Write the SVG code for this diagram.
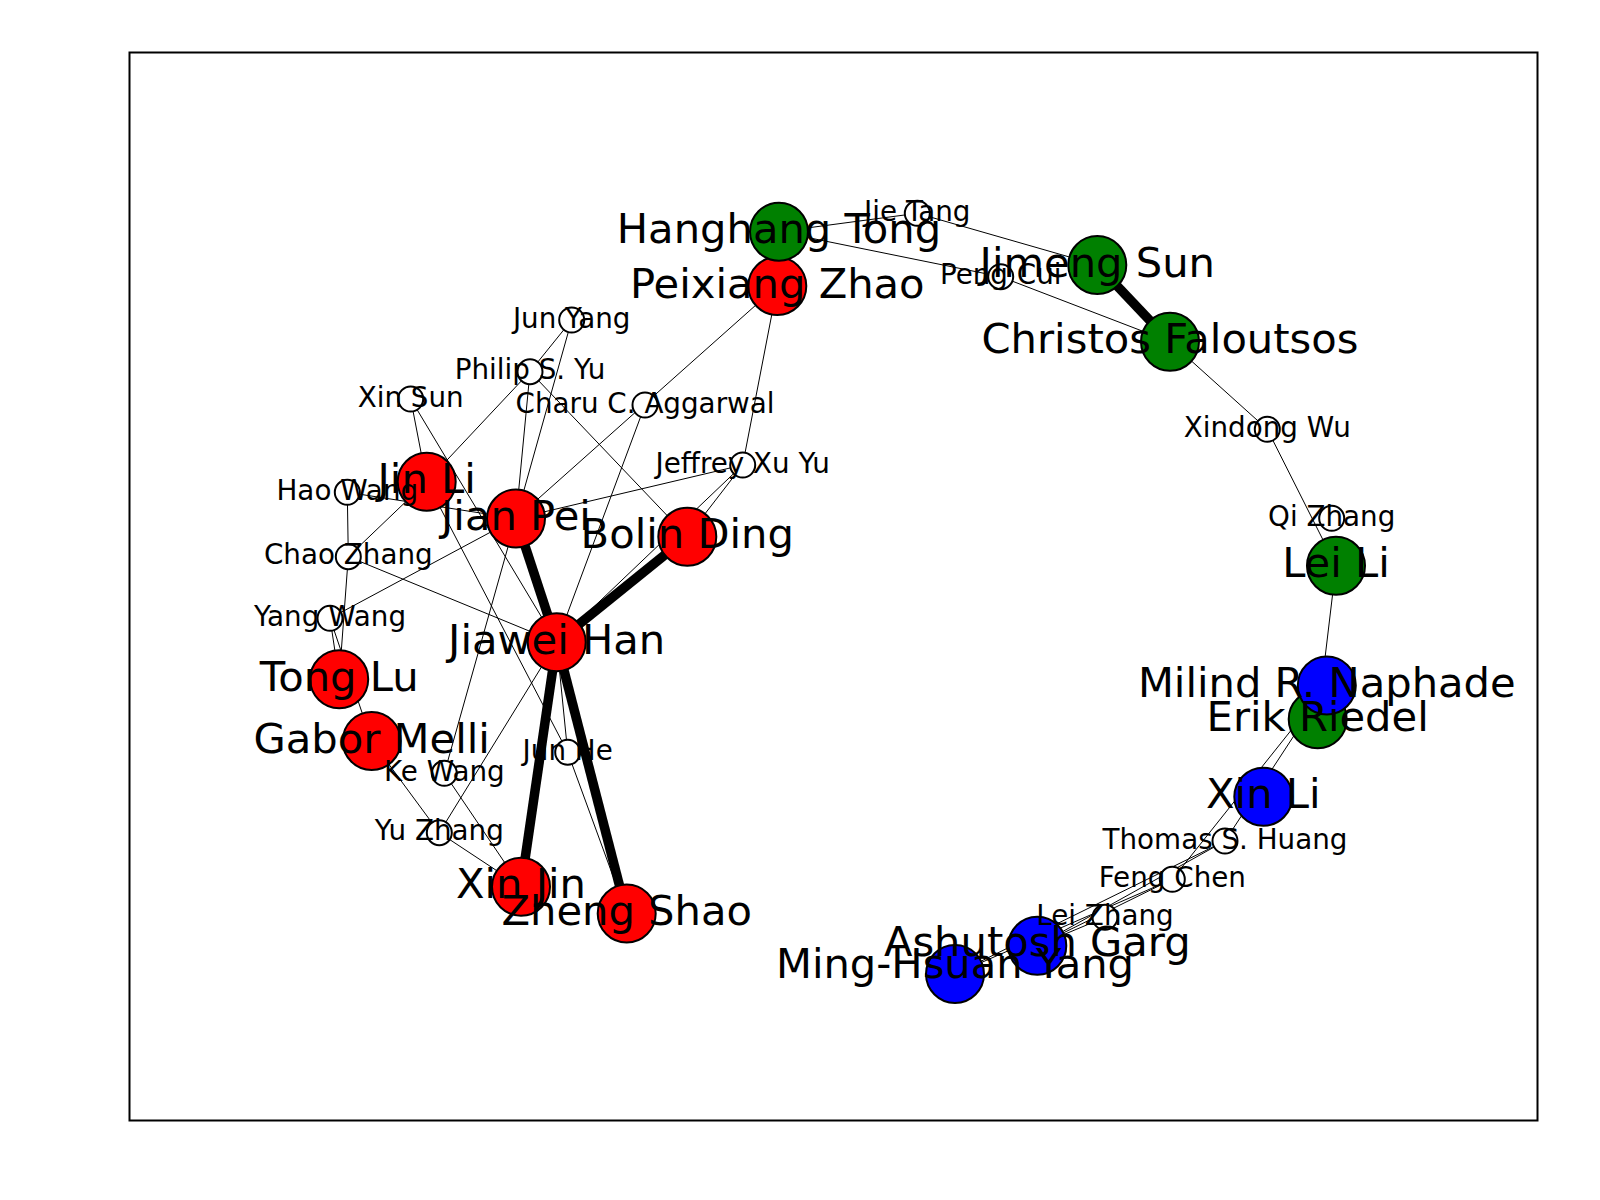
<svg xmlns="http://www.w3.org/2000/svg" width="1600" height="1200" viewBox="0 0 1600 1200">
<style>
.e{stroke:#000;stroke-width:1;fill:none}
.t{stroke:#000;stroke-width:9.5;fill:none}
.n{stroke:#000;stroke-width:2}
.r{fill:#ff0000}.g{fill:#008000}.b{fill:#0000ff}.w{fill:#ffffff}
.L{font-family:"DejaVu Sans","Liberation Sans",sans-serif;font-size:41.67px;text-anchor:middle;fill:#000}
.s{font-family:"DejaVu Sans","Liberation Sans",sans-serif;font-size:27.78px;text-anchor:middle;fill:#000}
</style>
<rect x="0" y="0" width="1600" height="1200" fill="#ffffff"/>
<rect x="129.5" y="52.5" width="1408" height="1068" fill="none" stroke="#000" stroke-width="2"/>
<g id="edges">
<line class="e" x1="571.7" y1="320" x2="530" y2="371.7"/>
<line class="e" x1="571.7" y1="320" x2="516" y2="518.5"/>
<line class="e" x1="530" y1="371.7" x2="426.7" y2="481.7"/>
<line class="e" x1="530" y1="371.7" x2="516" y2="518.5"/>
<line class="e" x1="530" y1="371.7" x2="687.3" y2="536.7"/>
<line class="e" x1="410.7" y1="399" x2="426.7" y2="481.7"/>
<line class="e" x1="410.7" y1="399" x2="556.7" y2="642.3"/>
<line class="e" x1="426.7" y1="481.7" x2="567.7" y2="752.3"/>
<line class="e" x1="426.7" y1="481.7" x2="348.3" y2="556.7"/>
<line class="e" x1="347.3" y1="492.3" x2="516" y2="518.5"/>
<line class="e" x1="347.3" y1="492.3" x2="348.3" y2="556.7"/>
<line class="e" x1="777.3" y1="286" x2="516" y2="518.5"/>
<line class="e" x1="645" y1="405" x2="556.7" y2="642.3"/>
<line class="e" x1="516" y1="518.5" x2="742.7" y2="465"/>
<line class="e" x1="777.3" y1="286" x2="742.7" y2="465"/>
<line class="e" x1="556.7" y1="642.3" x2="742.7" y2="465"/>
<line class="e" x1="687.3" y1="536.7" x2="742.7" y2="465"/>
<line class="e" x1="348.3" y1="556.7" x2="556.7" y2="642.3"/>
<line class="e" x1="348.3" y1="556.7" x2="339.2" y2="679.2"/>
<line class="e" x1="330" y1="618.3" x2="339.2" y2="679.2"/>
<line class="e" x1="330" y1="618.3" x2="371.7" y2="741"/>
<line class="e" x1="330" y1="618.3" x2="516" y2="518.5"/>
<line class="e" x1="371.7" y1="741" x2="439.3" y2="832.7"/>
<line class="e" x1="439.3" y1="832.7" x2="521" y2="886.7"/>
<line class="e" x1="444.3" y1="773.3" x2="521" y2="886.7"/>
<line class="e" x1="444.3" y1="773.3" x2="516" y2="518.5"/>
<line class="e" x1="439.3" y1="832.7" x2="556.7" y2="642.3"/>
<line class="e" x1="556.7" y1="642.3" x2="567.7" y2="752.3"/>
<line class="e" x1="567.7" y1="752.3" x2="626.7" y2="913.5"/>
<line class="e" x1="779" y1="231.7" x2="917.3" y2="213.3"/>
<line class="e" x1="779" y1="231.7" x2="1000.7" y2="276.7"/>
<line class="e" x1="917.3" y1="213.3" x2="1097.3" y2="265"/>
<line class="e" x1="1000.7" y1="276.7" x2="1170" y2="341.7"/>
<line class="e" x1="1170" y1="341.7" x2="1267.3" y2="429.3"/>
<line class="e" x1="1267.3" y1="429.3" x2="1336" y2="565.7"/>
<line class="e" x1="1336" y1="565.7" x2="1317.7" y2="719.3"/>
<line class="e" x1="1326.8" y1="685.5" x2="1225" y2="841"/>
<line class="e" x1="1326.8" y1="685.5" x2="1172.3" y2="879.3"/>
<line class="e" x1="1225" y1="841" x2="955" y2="974"/>
<line class="e" x1="1225" y1="841" x2="1037.3" y2="945.7"/>
<line class="e" x1="1172.3" y1="879.3" x2="1037.3" y2="945.7"/>
<line class="e" x1="1172.3" y1="879.3" x2="955" y2="974"/>
<line class="e" x1="1105" y1="917.3" x2="1037.3" y2="945.7"/>
<line class="t" x1="556.7" y1="642.3" x2="516" y2="518.5"/>
<line class="t" x1="556.7" y1="642.3" x2="687.3" y2="536.7"/>
<line class="t" x1="556.7" y1="642.3" x2="521" y2="886.7"/>
<line class="t" x1="556.7" y1="642.3" x2="626.7" y2="913.5"/>
<line class="t" x1="1097.3" y1="265" x2="1170" y2="341.7"/>
</g>
<g id="n-jun-yang"><circle class="n w" cx="571.7" cy="320" r="12.5"/></g>
<g id="n-philip-s-yu"><circle class="n w" cx="530" cy="371.7" r="12.5"/></g>
<g id="n-xin-sun"><circle class="n w" cx="410.7" cy="399" r="12.5"/></g>
<g id="n-charu"><circle class="n w" cx="645" cy="405" r="12.5"/></g>
<g id="n-hao-wang"><circle class="n w" cx="347.3" cy="492.3" r="12.5"/></g>
<g id="n-jeffrey"><circle class="n w" cx="742.7" cy="465" r="12.5"/></g>
<g id="n-chao-zhang"><circle class="n w" cx="348.3" cy="556.7" r="12.5"/></g>
<g id="n-yang-wang"><circle class="n w" cx="330" cy="618.3" r="12.5"/></g>
<g id="n-ke-wang"><circle class="n w" cx="444.3" cy="773.3" r="12.5"/></g>
<g id="n-jun-he"><circle class="n w" cx="567.7" cy="752.3" r="12.5"/></g>
<g id="n-yu-zhang"><circle class="n w" cx="439.3" cy="832.7" r="12.5"/></g>
<g id="n-jie-tang"><circle class="n w" cx="917.3" cy="213.3" r="12.5"/></g>
<g id="n-peng-cui"><circle class="n w" cx="1000.7" cy="276.7" r="12.5"/></g>
<g id="n-xindong-wu"><circle class="n w" cx="1267.3" cy="429.3" r="12.5"/></g>
<g id="n-qi-zhang"><circle class="n w" cx="1331.7" cy="518.3" r="12.5"/></g>
<g id="n-thomas"><circle class="n w" cx="1225" cy="841" r="12.5"/></g>
<g id="n-feng-chen"><circle class="n w" cx="1172.3" cy="879.3" r="12.5"/></g>
<g id="n-lei-zhang"><circle class="n w" cx="1105" cy="917.3" r="12.5"/></g>
<g id="n-jiawei-han"><circle class="n r" cx="556.7" cy="642.3" r="29"/></g>
<g id="n-jian-pei"><circle class="n r" cx="516" cy="518.5" r="29"/></g>
<g id="n-bolin-ding"><circle class="n r" cx="687.3" cy="536.7" r="29"/></g>
<g id="n-jin-li"><circle class="n r" cx="426.7" cy="481.7" r="29"/></g>
<g id="n-tong-lu"><circle class="n r" cx="339.2" cy="679.2" r="29"/></g>
<g id="n-gabor-melli"><circle class="n r" cx="371.7" cy="741" r="29"/></g>
<g id="n-xin-jin"><circle class="n r" cx="521" cy="886.7" r="29"/></g>
<g id="n-zheng-shao"><circle class="n r" cx="626.7" cy="913.5" r="29"/></g>
<g id="n-peixiang-zhao"><circle class="n r" cx="777.3" cy="286" r="29"/></g>
<g id="n-hanghang-tong"><circle class="n g" cx="779" cy="231.7" r="29"/></g>
<g id="n-jimeng-sun"><circle class="n g" cx="1097.3" cy="265" r="29"/></g>
<g id="n-christos"><circle class="n g" cx="1170" cy="341.7" r="29"/></g>
<g id="n-lei-li"><circle class="n g" cx="1336" cy="565.7" r="29"/></g>
<g id="n-erik-riedel"><circle class="n g" cx="1317.7" cy="719.3" r="29"/></g>
<g id="n-milind"><circle class="n b" cx="1326.8" cy="685.5" r="29"/></g>
<g id="n-xin-li"><circle class="n b" cx="1263.3" cy="796.7" r="29"/></g>
<g id="n-ashutosh"><circle class="n b" cx="1037.3" cy="945.7" r="29"/></g>
<g id="n-ming-hsuan"><circle class="n b" cx="955" cy="974" r="29"/></g>
<g id="labels">
<text class="s" x="571.7" y="327.6">Jun Yang</text>
<text class="s" x="530" y="379.3">Philip S. Yu</text>
<text class="s" x="410.7" y="406.6">Xin Sun</text>
<text class="s" x="645" y="412.6">Charu C. Aggarwal</text>
<text class="s" x="347.3" y="499.9">Hao Wang</text>
<text class="s" x="742.7" y="472.6">Jeffrey Xu Yu</text>
<text class="s" x="348.3" y="564.3">Chao Zhang</text>
<text class="s" x="330" y="625.9">Yang Wang</text>
<text class="s" x="444.3" y="780.9">Ke Wang</text>
<text class="s" x="567.7" y="759.9">Jun He</text>
<text class="s" x="439.3" y="840.3">Yu Zhang</text>
<text class="s" x="917.3" y="220.9">Jie Tang</text>
<text class="s" x="1000.7" y="284.3">Peng Cui</text>
<text class="s" x="1267.3" y="436.9">Xindong Wu</text>
<text class="s" x="1331.7" y="525.9">Qi Zhang</text>
<text class="s" x="1225" y="848.6">Thomas S. Huang</text>
<text class="s" x="1172.3" y="886.9">Feng Chen</text>
<text class="s" x="1105" y="924.9">Lei Zhang</text>
<text class="L" x="556.7" y="654">Jiawei Han</text>
<text class="L" x="516" y="530.2">Jian Pei</text>
<text class="L" x="687.3" y="548.4">Bolin Ding</text>
<text class="L" x="426.7" y="493.4">Jin Li</text>
<text class="L" x="339.2" y="690.9">Tong Lu</text>
<text class="L" x="371.7" y="752.7">Gabor Melli</text>
<text class="L" x="521" y="898.4">Xin Jin</text>
<text class="L" x="626.7" y="925.2">Zheng Shao</text>
<text class="L" x="777.3" y="297.7">Peixiang Zhao</text>
<text class="L" x="779" y="243.4">Hanghang Tong</text>
<text class="L" x="1097.3" y="276.7">Jimeng Sun</text>
<text class="L" x="1170" y="353.4">Christos Faloutsos</text>
<text class="L" x="1336" y="577.4">Lei Li</text>
<text class="L" x="1317.7" y="731">Erik Riedel</text>
<text class="L" x="1326.8" y="697.2">Milind R. Naphade</text>
<text class="L" x="1263.3" y="808.4">Xin Li</text>
<text class="L" x="1037.3" y="955.5">Ashutosh Garg</text>
<text class="L" x="955" y="978">Ming-Hsuan Yang</text>
</g>
</svg>
